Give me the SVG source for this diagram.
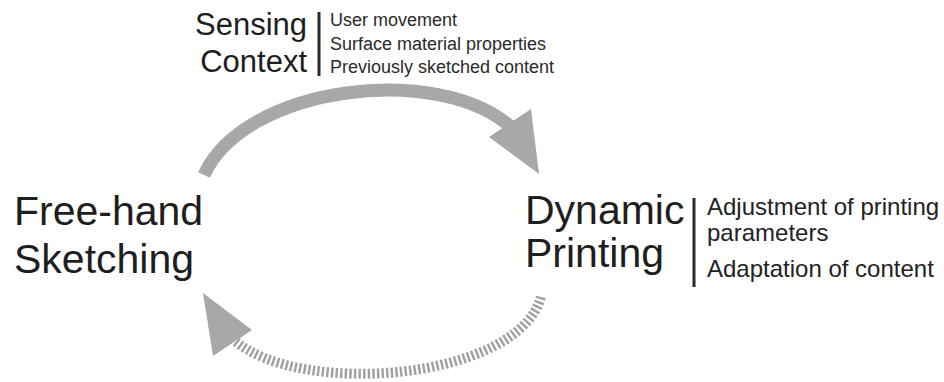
<svg xmlns="http://www.w3.org/2000/svg" width="944" height="382" viewBox="0 0 944 382">
<style>
.big{font-family:"Liberation Sans",Arial,sans-serif;font-size:41px;fill:#1e1e1e}
.mid{font-family:"Liberation Sans",Arial,sans-serif;font-size:31px;fill:#1e1e1e}
.sm{font-family:"Liberation Sans",Arial,sans-serif;font-size:18px;fill:#2a2a2a}
.rt{font-family:"Liberation Sans",Arial,sans-serif;font-size:24px;fill:#222}
.bar{stroke:#2a2a2a;stroke-width:3}
.arc{fill:none;stroke:#a8a8a8;stroke-width:13}
.dash{fill:none;stroke:#a0a0a0;stroke-width:10;stroke-dasharray:2.4 2.2}
.head{fill:#a8a8a8}
</style>
<rect width="944" height="382" fill="#fff"/>
<g id="connectors">
<path class="arc" d="M204,175 C245,85 440,62 512,128"/>
<polygon class="head" points="539,174 489,137 531,109"/>
<path class="dash" d="M541,297 C518,380 300,398 234,340"/>
<polygon class="head" points="203,293 252,330 213,356"/>
</g>
<g id="node-sensing">
<text class="mid" x="307" y="35" text-anchor="end">Sensing</text>
<text class="mid" x="307" y="72" text-anchor="end">Context</text>
<line class="bar" x1="319" y1="12" x2="319" y2="76"/>
<text class="sm" x="330" y="26">User movement</text>
<text class="sm" x="330" y="50">Surface material properties</text>
<text class="sm" x="330" y="73">Previously sketched content</text>
</g>
<g id="node-freehand">
<text class="big" x="14" y="225">Free-hand</text>
<text class="big" x="14" y="273">Sketching</text>
</g>
<g id="node-printing">
<text class="big" x="525" y="224">Dynamic</text>
<text class="big" x="525" y="267">Printing</text>
<line class="bar" x1="694" y1="198" x2="694" y2="287"/>
<text class="rt" x="707" y="215">Adjustment of printing</text>
<text class="rt" x="707" y="241">parameters</text>
<text class="rt" x="707" y="277">Adaptation of content</text>
</g>
</svg>
